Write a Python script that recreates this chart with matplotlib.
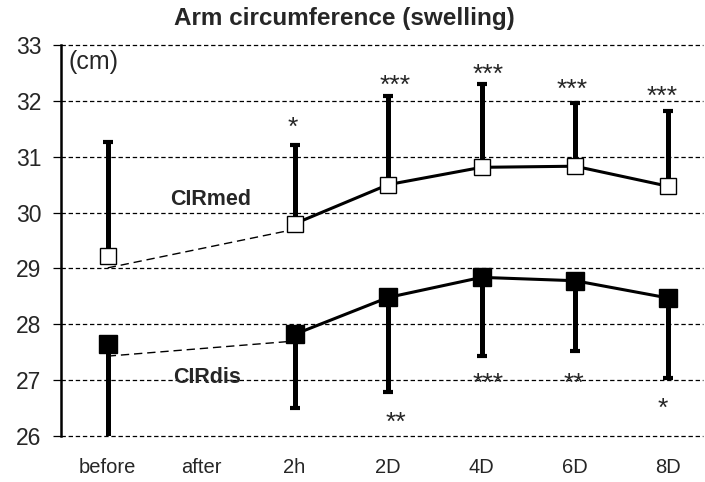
import numpy as np
import matplotlib
matplotlib.use("Agg")
from matplotlib import pyplot as plt

categories = ["before", "after", "2h", "2D", "4D", "6D", "8D"]

# CIRmed (open squares), "after" has no value
med_x = [0, 2, 3, 4, 5, 6]
med_mean = [29.22, 29.80, 30.50, 30.81, 30.83, 30.47]
med_upper = [31.27, 31.21, 32.09, 32.30, 31.96, 31.82]

# CIRdis (filled squares)
dis_x = [0, 2, 3, 4, 5, 6]
dis_mean = [27.65, 27.82, 28.48, 28.84, 28.78, 28.47]
dis_lower = [25.70, 26.50, 26.79, 27.43, 27.52, 27.03]

# dashed bridge between "before" and "2h"
bridge_x = [0, 2]
med_bridge = [29.01, 29.70]
dis_bridge = [27.43, 27.70]

# significance marks
star_top_x = [1.98, 3.08, 4.07, 4.97, 5.93]
star_top_y = [31.62, 32.37, 32.57, 32.30, 32.18]
star_top = ["*", "***", "***", "***", "***"]
star_bot_x = [3.08, 4.07, 4.99, 5.94]
star_bot_y = [26.33, 27.03, 27.03, 26.58]
star_bot = ["**", "***", "**", "*"]

TXT = "#262626"
plt.rcParams["font.family"] = ["Liberation Sans", "DejaVu Sans"]


def main():
    fig = plt.figure(figsize=(7.05, 4.82), dpi=100)
    ax = fig.add_axes([61 / 705, 46 / 482, 642 / 705, 391 / 482])

    ax.set_xlim(-0.5, 6.37)
    ax.set_ylim(26, 33)

    # grid
    for v in range(26, 34):
        ax.axhline(v, color="black", lw=0.9, dashes=(3.5, 2.2), zorder=1, clip_on=False)

    # dashed bridges
    ax.plot(bridge_x, med_bridge, color="black", lw=1.0, dashes=(6, 3.5), zorder=2)
    ax.plot(bridge_x, dis_bridge, color="black", lw=1.0, dashes=(6, 3.5), zorder=2)

    # error bars
    med_err = [np.zeros(len(med_mean)), np.array(med_upper) - np.array(med_mean)]
    dis_err = [np.array(dis_mean) - np.array(dis_lower), np.zeros(len(dis_mean))]
    ax.errorbar(med_x, med_mean, yerr=med_err, fmt="none", ecolor="black",
                elinewidth=3.6, capsize=3.6, capthick=3.0, zorder=3)
    ax.errorbar(dis_x, dis_mean, yerr=dis_err, fmt="none", ecolor="black",
                elinewidth=3.6, capsize=3.6, capthick=3.0, zorder=3)

    # main lines (from 2h on)
    ax.plot(med_x[1:], med_mean[1:], color="black", lw=2.2, zorder=4)
    ax.plot(dis_x[1:], dis_mean[1:], color="black", lw=2.2, zorder=4)

    # markers
    ax.plot(med_x, med_mean, "s", ms=12, mfc="white", mec="black", mew=1.0,
            ls="none", zorder=5)
    ax.plot(dis_x, dis_mean, "s", ms=12.5, mfc="black", mec="black", mew=1.0,
            ls="none", zorder=5)

    # asterisk glyph sits high in the em box, so shift a bit down
    for x, y, s in zip(star_top_x, star_top_y, star_top):
        ax.text(x, y - 0.1, s, ha="center", va="center", fontsize=19, color=TXT)
    for x, y, s in zip(star_bot_x, star_bot_y, star_bot):
        ax.text(x, y - 0.1, s, ha="center", va="center", fontsize=19, color=TXT)

    ax.text(1.10, 30.23, "CIRmed", ha="center", va="center", fontsize=15.5,
            fontweight="bold", color=TXT)
    ax.text(1.06, 27.04, "CIRdis", ha="center", va="center", fontsize=15.5,
            fontweight="bold", color=TXT)
    ax.text(-0.42, 32.7, "(cm)", ha="left", va="center", fontsize=18, color=TXT)

    fig.text(344 / 705, 1 - 19 / 482, "Arm circumference (swelling)", fontsize=17.5,
             fontweight="bold", color=TXT, ha="center", va="center")

    ax.set_xticks(range(len(categories)))
    ax.set_xticklabels(categories, fontsize=14.5, color=TXT)
    ax.set_yticks(range(26, 34))
    ax.tick_params(axis="x", length=0, pad=16)
    ax.tick_params(axis="y", length=6, width=0.9, pad=8, labelsize=16.5, labelcolor=TXT)

    for side in ["top", "right", "bottom"]:
        ax.spines[side].set_visible(False)
    ax.spines["left"].set_linewidth(1.8)
    ax.spines["left"].set_zorder(6)

    fig.savefig("out.png", dpi=100)


if __name__ == "__main__":
    main()
